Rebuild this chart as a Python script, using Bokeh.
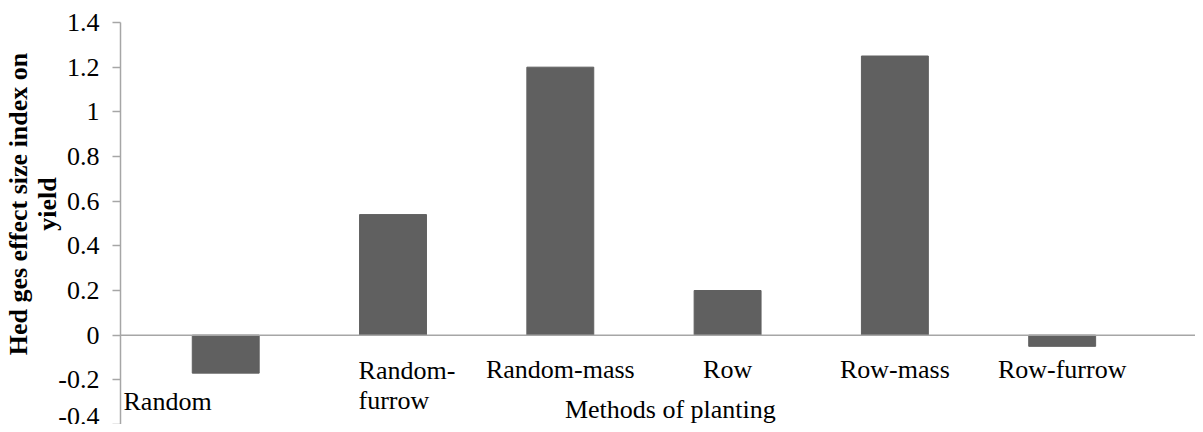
from bokeh.plotting import figure
from bokeh.models import Range1d, FixedTicker, Span, Label
from bokeh.embed import file_html
from bokeh.resources import INLINE

categories = ["Random", "Random-furrow", "Random-mass", "Row", "Row-mass", "Row-furrow"]
values = [-0.17, 0.54, 1.20, 0.20, 1.25, -0.05]
y_ticks = [-0.4, -0.2, 0, 0.2, 0.4, 0.6, 0.8, 1, 1.2, 1.4]
y_tick_labels = ["-0.4", "-0.2", "0", "0.2", "0.4", "0.6", "0.8", "1", "1.2", "1.4"]
x_title = "Methods of planting"
y_title = "Hed ges effect size index on\nyield"

FONT = "Liberation Serif"
FS = "26px"
NB = "\u00a0" * 6

p = figure(width=1195, height=424, output_backend="svg", toolbar_location=None,
           x_range=Range1d(-0.629, 5.797), y_range=Range1d(-0.4, 1.4),
           min_border_left=120, min_border_right=0, min_border_top=22, min_border_bottom=0)
p.outline_line_color = None
p.grid.visible = False
p.xaxis.visible = False

xs = list(range(len(categories)))
p.vbar(x=xs, top=values, bottom=0, width=0.4, fill_color="#606060", line_color="#606060")

p.add_layout(Span(location=0, dimension="width", line_color="#A6A6A6", line_width=1.5))

ya = p.yaxis[0]
ya.ticker = FixedTicker(ticks=y_ticks)
ya.major_label_overrides = {t: l for t, l in zip(y_ticks, y_tick_labels)}
ya.axis_line_color = "#A6A6A6"
ya.axis_line_width = 1.5
ya.major_tick_line_color = "#A6A6A6"
ya.major_tick_line_width = 1.5
ya.major_tick_out = 8
ya.major_tick_in = 0
ya.minor_tick_line_color = None
ya.major_label_standoff = 13
ya.major_label_text_font = FONT
ya.major_label_text_font_size = FS
ya.major_label_text_color = "black"
ya.axis_label = "\n".join(NB + line for line in y_title.split("\n"))
ya.axis_label_text_font = FONT
ya.axis_label_text_font_size = FS
ya.axis_label_text_font_style = "bold"
ya.axis_label_text_color = "black"
ya.axis_label_text_line_height = 1.0
ya.axis_label_standoff = -7

# category labels (Excel-like placement), alphabetic baselines
label_specs = [
    (xs[0] - 0.611, -0.297, "left", categories[0]),
    (xs[1] - 0.206, -0.158, "left", "Random-"),
    (xs[1] - 0.206, -0.292, "left", "furrow"),
    (xs[2], -0.153, "center", categories[2]),
    (xs[3], -0.153, "center", categories[3]),
    (xs[4], -0.153, "center", categories[4]),
    (xs[5], -0.153, "center", categories[5]),
    (2.658, -0.335, "center", x_title),
]
for x, y, align, txt in label_specs:
    p.add_layout(Label(x=x, y=y, text=txt, text_align=align, text_baseline="alphabetic",
                       text_font=FONT, text_font_size=FS, text_color="black"))

open("out.html", "w").write(file_html(p, INLINE))
